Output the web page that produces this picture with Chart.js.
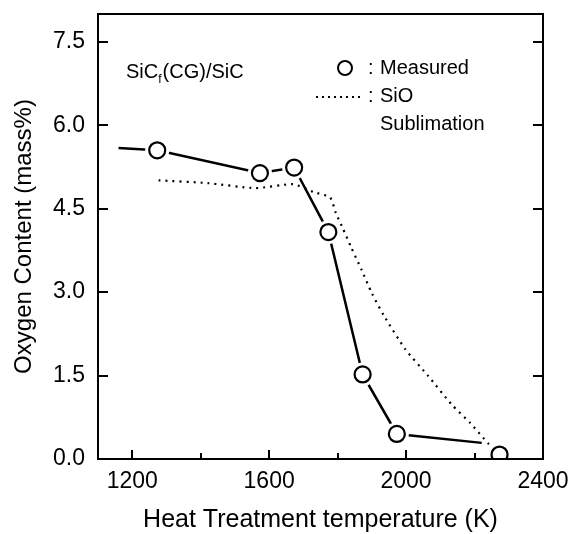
<!DOCTYPE html>
<html>
<head>
<meta charset="utf-8">
<script src="https://cdn.jsdelivr.net/npm/chart.js@4/dist/chart.umd.min.js"></script>
<style>
  html, body { margin:0; padding:0; background:#fff; }
  #wrap { width:572px; height:534px; }
</style>
</head>
<body>
<div id="wrap"><canvas id="chart1" width="572" height="534"></canvas></div>
<script>
// measured points (K, mass%)
const measuredTemp = [1273, 1573, 1673, 1773, 1873, 1973, 2273];
const measuredO    = [5.55, 5.14, 5.24, 4.08, 1.52, 0.45, 0.08];

// solid guide line through the measured points
const trendTemp = [1160, 1273, 1573, 1673, 1773, 1873, 1973, 2221];
const trendO    = [5.59, 5.55, 5.14, 5.24, 4.08, 1.52, 0.45, 0.29];

// SiO sublimation (dotted)
const sioTemp = [1277, 1420, 1560, 1670, 1730, 1778, 1795, 1815, 1840, 1870, 1900, 1935, 1997, 2065, 2133, 2187, 2240, 2262];
const sioO    = [5.01, 4.96, 4.87, 4.94, 4.80, 4.70, 4.42, 4.15, 3.80, 3.40, 2.98, 2.58, 1.98, 1.49, 0.98, 0.65, 0.28, 0.15];

const xTicks = [1200, 1400, 1600, 1800, 2000, 2200, 2400];
const xLabels = [1200, 1600, 2000, 2400];
const yTicks = [0, 1.5, 3.0, 4.5, 6.0, 7.5];

const FONT = "'Liberation Sans', Arial, Helvetica, sans-serif";

function pts(xs, ys){
    return xs.map((x,i)=>({x:x, y:ys[i]}));
}

// frame, inward ticks and the text notes
const framePlugin = {
    id:"frame",
    afterDraw(chart){
        const ctx = chart.ctx;
        const a = chart.chartArea;
        const xs = chart.scales.x;
        const ys = chart.scales.y;
        ctx.save();
        ctx.strokeStyle = "#000";
        ctx.lineWidth = 2;
        ctx.strokeRect(a.left, a.top, a.right - a.left, a.bottom - a.top);

        ctx.beginPath();
        xTicks.forEach(v=>{
            const px = Math.round(xs.getPixelForValue(v));
            if(v <= xs.min || v >= xs.max) return;
            const len = xLabels.includes(v) ? 9 : 6;
            ctx.moveTo(px, a.bottom);
            ctx.lineTo(px, a.bottom - len);
        });
        yTicks.forEach(v=>{
            const py = Math.round(ys.getPixelForValue(v));
            if(v <= ys.min) return;
            ctx.moveTo(a.left, py);
            ctx.lineTo(a.left + 10, py);
            ctx.moveTo(a.right, py);
            ctx.lineTo(a.right - 10, py);
        });
        ctx.stroke();

        // notes
        ctx.fillStyle = "#000";
        ctx.textBaseline = "middle";
        ctx.font = "20px " + FONT;
        let x = 126;
        const y = 72;
        ctx.fillText("SiC", x, y);
        x += ctx.measureText("SiC").width;
        ctx.font = "12px " + FONT;
        ctx.fillText("f", x, y + 8);
        x += ctx.measureText("f").width + 1;
        ctx.font = "20px " + FONT;
        ctx.fillText("(CG)/SiC", x, y);

        // legend
        ctx.beginPath();
        ctx.lineWidth = 2;
        ctx.arc(345, 68, 7, 0, Math.PI*2);
        ctx.stroke();
        ctx.fillText(":", 368, 68);
        ctx.fillText("Measured", 380, 68);

        for(let dx = 316; dx < 364; dx += 6){
            ctx.fillRect(dx, 96, 2, 2);
        }
        ctx.fillText(":", 368, 96);
        ctx.fillText("SiO", 380, 96);
        ctx.fillText("Sublimation", 380, 124);
        ctx.restore();
    }
};

new Chart(
    document.getElementById("chart1"),
    {
        type:"scatter",
        data:{
            datasets:[
                {
                    label:"Measured",
                    data:pts(measuredTemp, measuredO),
                    showLine:false,
                    pointRadius:8,
                    pointBackgroundColor:"#fff",
                    pointBorderColor:"#000",
                    pointBorderWidth:2.2,
                    order:0
                },
                {
                    label:"halo",
                    data:pts(measuredTemp, measuredO),
                    showLine:false,
                    pointRadius:12,
                    pointBackgroundColor:"#fff",
                    pointBorderWidth:0,
                    pointBorderColor:"#fff",
                    order:1
                },
                {
                    label:"SiO Sublimation",
                    data:pts(sioTemp, sioO),
                    showLine:true,
                    borderColor:"#000",
                    borderWidth:2.2,
                    borderDash:[2,5],
                    pointRadius:0,
                    tension:0.2,
                    order:2
                },
                {
                    label:"trend",
                    data:pts(trendTemp, trendO),
                    showLine:true,
                    borderColor:"#000",
                    borderWidth:2.5,
                    pointRadius:0,
                    tension:0,
                    order:3
                }
            ]
        },
        options:{
            responsive:false,
            animation:false,
            events:[],
            layout:{
                padding:{ left:6, right:29, top:14, bottom:0 }
            },
            plugins:{
                legend:{ display:false },
                tooltip:{ enabled:false }
            },
            scales:{
                x:{
                    type:"linear",
                    min:1100,
                    max:2400,
                    grid:{ display:false, drawTicks:false },
                    border:{ display:false },
                    afterBuildTicks(scale){
                        scale.ticks = xTicks.map(v=>({value:v}));
                    },
                    afterFit(scale){
                        scale.height = 75;
                        scale.paddingLeft = 0;
                        scale.paddingRight = 0;
                    },
                    ticks:{
                        autoSkip:false,
                        maxRotation:0,
                        padding:9,
                        color:"#000",
                        font:{ family:FONT, size:23 },
                        callback:(v)=> xLabels.includes(v) ? String(v) : ""
                    },
                    title:{
                        display:true,
                        text:"Heat Treatment temperature (K)",
                        color:"#000",
                        font:{ family:FONT, size:25, lineHeight:1.1 },
                        padding:{ top:0, bottom:0 }
                    }
                },
                y:{
                    type:"linear",
                    min:0,
                    max:8.0,
                    grid:{ display:false, drawTicks:false },
                    border:{ display:false },
                    afterBuildTicks(scale){
                        scale.ticks = yTicks.map(v=>({value:v}));
                    },
                    afterFit(scale){
                        scale.width = 92;
                        scale.paddingTop = 0;
                        scale.paddingBottom = 0;
                    },
                    ticks:{
                        padding:13,
                        color:"#000",
                        font:{ family:FONT, size:23 },
                        callback:(v)=> v.toFixed(1)
                    },
                    title:{
                        display:true,
                        text:"Oxygen Content (mass%)",
                        color:"#000",
                        font:{ family:FONT, size:24 },
                        padding:{ top:4, bottom:4 }
                    }
                }
            }
        },
        plugins:[framePlugin]
    }
);
</script>
</body>
</html>
